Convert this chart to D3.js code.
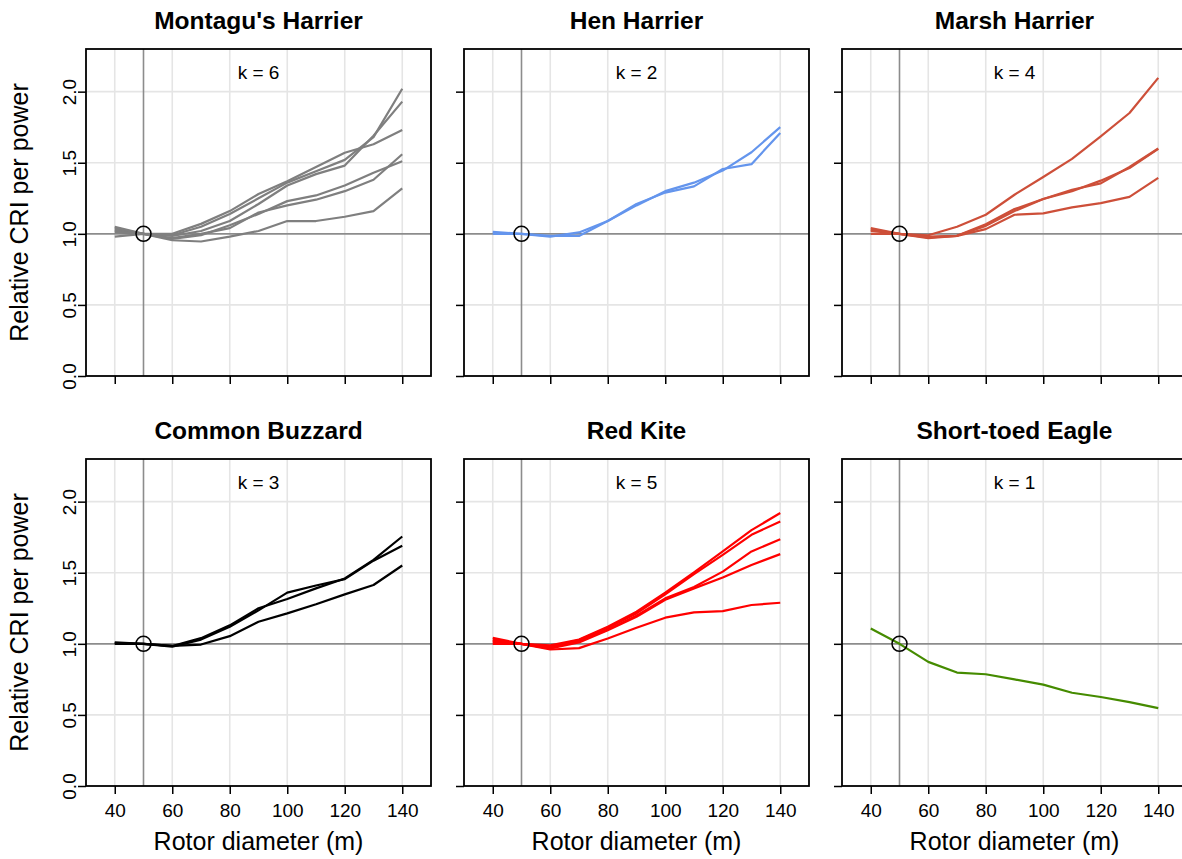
<!DOCTYPE html>
<html>
<head>
<meta charset="utf-8">
<script src="https://cdn.jsdelivr.net/npm/d3@7"></script>
<style>
  html, body { margin: 0; padding: 0; background: #fff; }
  svg { display: block; }
  text { font-family: "Liberation Sans", Arial, Helvetica, sans-serif; fill: #000; }
</style>
</head>
<body>
<svg id="chart" width="1182" height="859"></svg>
<script>
// Rotor diameters (m) at which the collision risk index was evaluated
const rotorDiameter = [40, 50, 60, 70, 80, 90, 100, 110, 120, 130, 140];

// Relative CRI per power, one array per turbine model, per species
const montagusHarrier = [
  [1.04, 1.00, 0.990, 1.05, 1.14, 1.25, 1.36, 1.44, 1.52, 1.68, 2.02],
  [1.03, 1.00, 0.985, 1.02, 1.09, 1.21, 1.34, 1.42, 1.48, 1.69, 1.93],
  [1.05, 1.00, 1.000, 1.07, 1.16, 1.28, 1.37, 1.47, 1.57, 1.63, 1.73],
  [1.02, 1.00, 0.970, 1.00, 1.04, 1.15, 1.20, 1.24, 1.30, 1.38, 1.56],
  [1.01, 1.00, 0.965, 0.99, 1.06, 1.14, 1.23, 1.27, 1.34, 1.43, 1.51],
  [0.98, 1.00, 0.955, 0.946, 0.98, 1.02, 1.09, 1.09, 1.12, 1.16, 1.32]
];
const henHarrier = [
  [1.014, 1.00, 0.980, 1.010, 1.09, 1.20, 1.30, 1.36, 1.445, 1.574, 1.75],
  [1.000, 1.00, 0.985, 0.985, 1.09, 1.21, 1.29, 1.334, 1.456, 1.49, 1.71]
];
const marshHarrier = [
  [1.03, 1.00, 0.990, 1.050, 1.134, 1.275, 1.400, 1.527, 1.685, 1.850, 2.097],
  [1.04, 1.00, 0.970, 0.986, 1.068, 1.174, 1.245, 1.300, 1.374, 1.463, 1.598],
  [1.02, 1.00, 0.980, 0.986, 1.056, 1.160, 1.245, 1.310, 1.355, 1.470, 1.600],
  [1.00, 1.00, 0.975, 0.986, 1.033, 1.134, 1.144, 1.186, 1.216, 1.260, 1.393]
];
const commonBuzzard = [
  [1.010, 1.00, 0.980, 1.030, 1.120, 1.235, 1.360, 1.410, 1.455, 1.585, 1.690],
  [1.005, 1.00, 0.985, 1.040, 1.130, 1.250, 1.315, 1.390, 1.460, 1.590, 1.755],
  [1.000, 1.00, 0.985, 0.995, 1.054, 1.155, 1.214, 1.278, 1.348, 1.414, 1.551]
];
const redKite = [
  [1.042, 1.00, 0.990, 1.030, 1.120, 1.226, 1.360, 1.503, 1.650, 1.800, 1.920],
  [1.030, 1.00, 0.980, 1.026, 1.113, 1.214, 1.348, 1.490, 1.626, 1.767, 1.861],
  [1.020, 1.00, 0.970, 1.020, 1.100, 1.198, 1.320, 1.400, 1.508, 1.650, 1.736],
  [1.010, 1.00, 0.967, 1.010, 1.096, 1.190, 1.310, 1.390, 1.466, 1.555, 1.631],
  [1.000, 1.00, 0.960, 0.970, 1.038, 1.113, 1.184, 1.221, 1.230, 1.273, 1.289]
];
const shortToedEagle = [
  [1.108, 1.00, 0.873, 0.798, 0.786, 0.750, 0.713, 0.656, 0.626, 0.590, 0.548]
];

const speciesNames = ["Montagu's Harrier", "Hen Harrier", "Marsh Harrier",
                      "Common Buzzard", "Red Kite", "Short-toed Eagle"];
const speciesSeries = [montagusHarrier, henHarrier, marshHarrier,
                       commonBuzzard, redKite, shortToedEagle];
const speciesColors = ["#7f7f7f", "#6495ed", "#cd4f39", "#000000", "#ff0000", "#458b00"];

// Axis ticks and labels
const xTicks = [40, 60, 80, 100, 120, 140];
const yTicks = [0, 0.5, 1.0, 1.5, 2.0];
const yTickLabels = ["0.0", "0.5", "1.0", "1.5", "2.0"];
const xGrid = [40, 60, 80, 100, 120, 140];
const yGrid = [0.5, 1.5, 2.0];
const referenceDiameter = 50;
const referenceValue = 1.0;

const xTitle = "Rotor diameter (m)";
const yTitle = "Relative CRI per power";

// Panel layout
const colLeft = [86, 464, 842];
const rowTop = [49, 459];
const panelW = 345, panelH = 327;

const svg = d3.select("#chart");

speciesNames.forEach((name, i) => {
  const col = i % 3, row = Math.floor(i / 3);
  const left = colLeft[col], top = rowTop[row];

  const x = d3.scaleLinear().domain([30, 150]).range([left, left + panelW]);
  const y = d3.scaleLinear().domain([0, 2.3]).range([top + panelH, top]);

  const g = svg.append("g");

  // light grid
  g.selectAll(".vgrid").data(xGrid).join("line")
    .attr("x1", d => x(d)).attr("x2", d => x(d))
    .attr("y1", top).attr("y2", top + panelH)
    .attr("stroke", "#e5e5e5").attr("stroke-width", 1.6);
  g.selectAll(".hgrid").data(yGrid).join("line")
    .attr("x1", left).attr("x2", left + panelW)
    .attr("y1", d => y(d)).attr("y2", d => y(d))
    .attr("stroke", "#e5e5e5").attr("stroke-width", 1.6);

  // reference lines
  g.append("line")
    .attr("x1", left).attr("x2", left + panelW)
    .attr("y1", y(referenceValue)).attr("y2", y(referenceValue))
    .attr("stroke", "#8c8c8c").attr("stroke-width", 1.6);
  g.append("line")
    .attr("x1", x(referenceDiameter)).attr("x2", x(referenceDiameter))
    .attr("y1", top).attr("y2", top + panelH)
    .attr("stroke", "#8c8c8c").attr("stroke-width", 1.6);

  // series lines
  const line = d3.line().x((d, j) => x(rotorDiameter[j])).y(d => y(d));
  g.selectAll(".series").data(speciesSeries[i]).join("path")
    .attr("d", line)
    .attr("fill", "none")
    .attr("stroke", speciesColors[i])
    .attr("stroke-width", 2.2)
    .attr("stroke-linejoin", "round");

  // reference point
  g.append("circle")
    .attr("cx", x(referenceDiameter)).attr("cy", y(referenceValue))
    .attr("r", 7.5)
    .attr("fill", "none").attr("stroke", "#000").attr("stroke-width", 1.5);

  // x axis ticks (labels only on the bottom row)
  const xAxis = d3.axisBottom(x).tickValues(xTicks).tickSizeOuter(0).tickSize(8).tickPadding(6)
    .tickFormat(row === 1 ? d3.format("d") : () => "");
  const xa = g.append("g").attr("transform", `translate(0,${top + panelH})`).call(xAxis);
  xa.select(".domain").remove();
  xa.selectAll(".tick line").attr("stroke", "#000").attr("stroke-width", 1.5);
  xa.selectAll(".tick text")
    .attr("font-size", 19).attr("dy", null).attr("y", 31)
    .style("font-family", "'Liberation Sans', Arial, sans-serif");

  // y axis ticks (rotated labels only in the first column)
  const yAxis = d3.axisLeft(y).tickValues(yTicks).tickSizeOuter(0).tickSize(8)
    .tickFormat((d, k) => col === 0 ? yTickLabels[k] : "");
  const ya = g.append("g").attr("transform", `translate(${left},0)`).call(yAxis);
  ya.select(".domain").remove();
  ya.selectAll(".tick line").attr("stroke", "#000").attr("stroke-width", 1.5);
  ya.selectAll(".tick text")
    .attr("font-size", 19)
    .attr("x", null).attr("dy", null)
    .attr("text-anchor", "middle")
    .attr("transform", "translate(-10,0) rotate(-90)")
    .style("font-family", "'Liberation Sans', Arial, sans-serif");

  // panel box
  g.append("rect")
    .attr("x", left).attr("y", top)
    .attr("width", panelW).attr("height", panelH)
    .attr("fill", "none").attr("stroke", "#000").attr("stroke-width", 1.8);

  // panel title
  g.append("text")
    .attr("x", left + panelW / 2).attr("y", top - 20)
    .attr("text-anchor", "middle")
    .attr("font-size", 24.5).attr("font-weight", "bold")
    .text(name);

  // number of turbine models
  g.append("text")
    .attr("x", left + panelW / 2).attr("y", top + 30)
    .attr("text-anchor", "middle")
    .attr("font-size", 19)
    .text(`k = ${speciesSeries[i].length}`);

  if (row === 1) {
    g.append("text")
      .attr("x", left + panelW / 2).attr("y", top + panelH + 64)
      .attr("text-anchor", "middle")
      .attr("font-size", 25)
      .text(xTitle);
  }
  if (col === 0) {
    g.append("text")
      .attr("transform", `translate(${left - 58},${top + panelH / 2}) rotate(-90)`)
      .attr("text-anchor", "middle")
      .attr("font-size", 25)
      .text(yTitle);
  }
});
</script>
</body>
</html>
